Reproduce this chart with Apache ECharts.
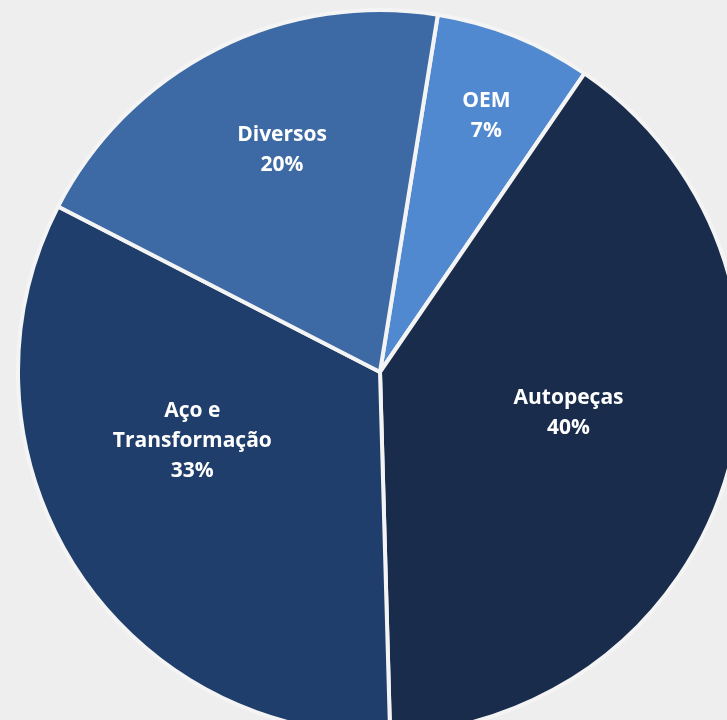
<!DOCTYPE html>
<html><head><meta charset="utf-8">
<script src="https://cdn.jsdelivr.net/npm/echarts@6/dist/echarts.min.js"></script>
<style>html,body{margin:0;padding:0;background:#eeeeee;}#c{width:727px;height:720px;}</style>
</head><body><div id="c"></div>
<script>
const categories = ['OEM', 'Autopeças', 'Aço e\nTransformação', 'Diversos'];
const values = [7, 40, 33, 20];
const colors = ['#5189d0', '#192c4c', '#1f3e6b', '#3d6aa4'];
const labelOffsets = [[38, -85], [12, -11], [-32, -29], [-15, -58]];

const chart = echarts.init(document.getElementById('c'));
chart.setOption({
  backgroundColor: '#eeeeee',
  series: [{
    type: 'pie',
    center: [380, 372],
    radius: 362,
    startAngle: 80.8,
    clockwise: true,
    silent: true,
    animation: false,
    itemStyle: { borderColor: '#f4f4f4', borderWidth: 4 },
    label: {
      show: true, position: 'inside', color: '#ffffff',
      fontFamily: 'Open Sans', fontWeight: 'bold', fontSize: 21, lineHeight: 30,
      formatter: p => p.name + '\n' + p.value + '%'
    },
    data: categories.map((c, i) => ({
      name: c, value: values[i],
      itemStyle: { color: colors[i] },
      label: { offset: labelOffsets[i] }
    }))
  }]
});
</script></body></html>
